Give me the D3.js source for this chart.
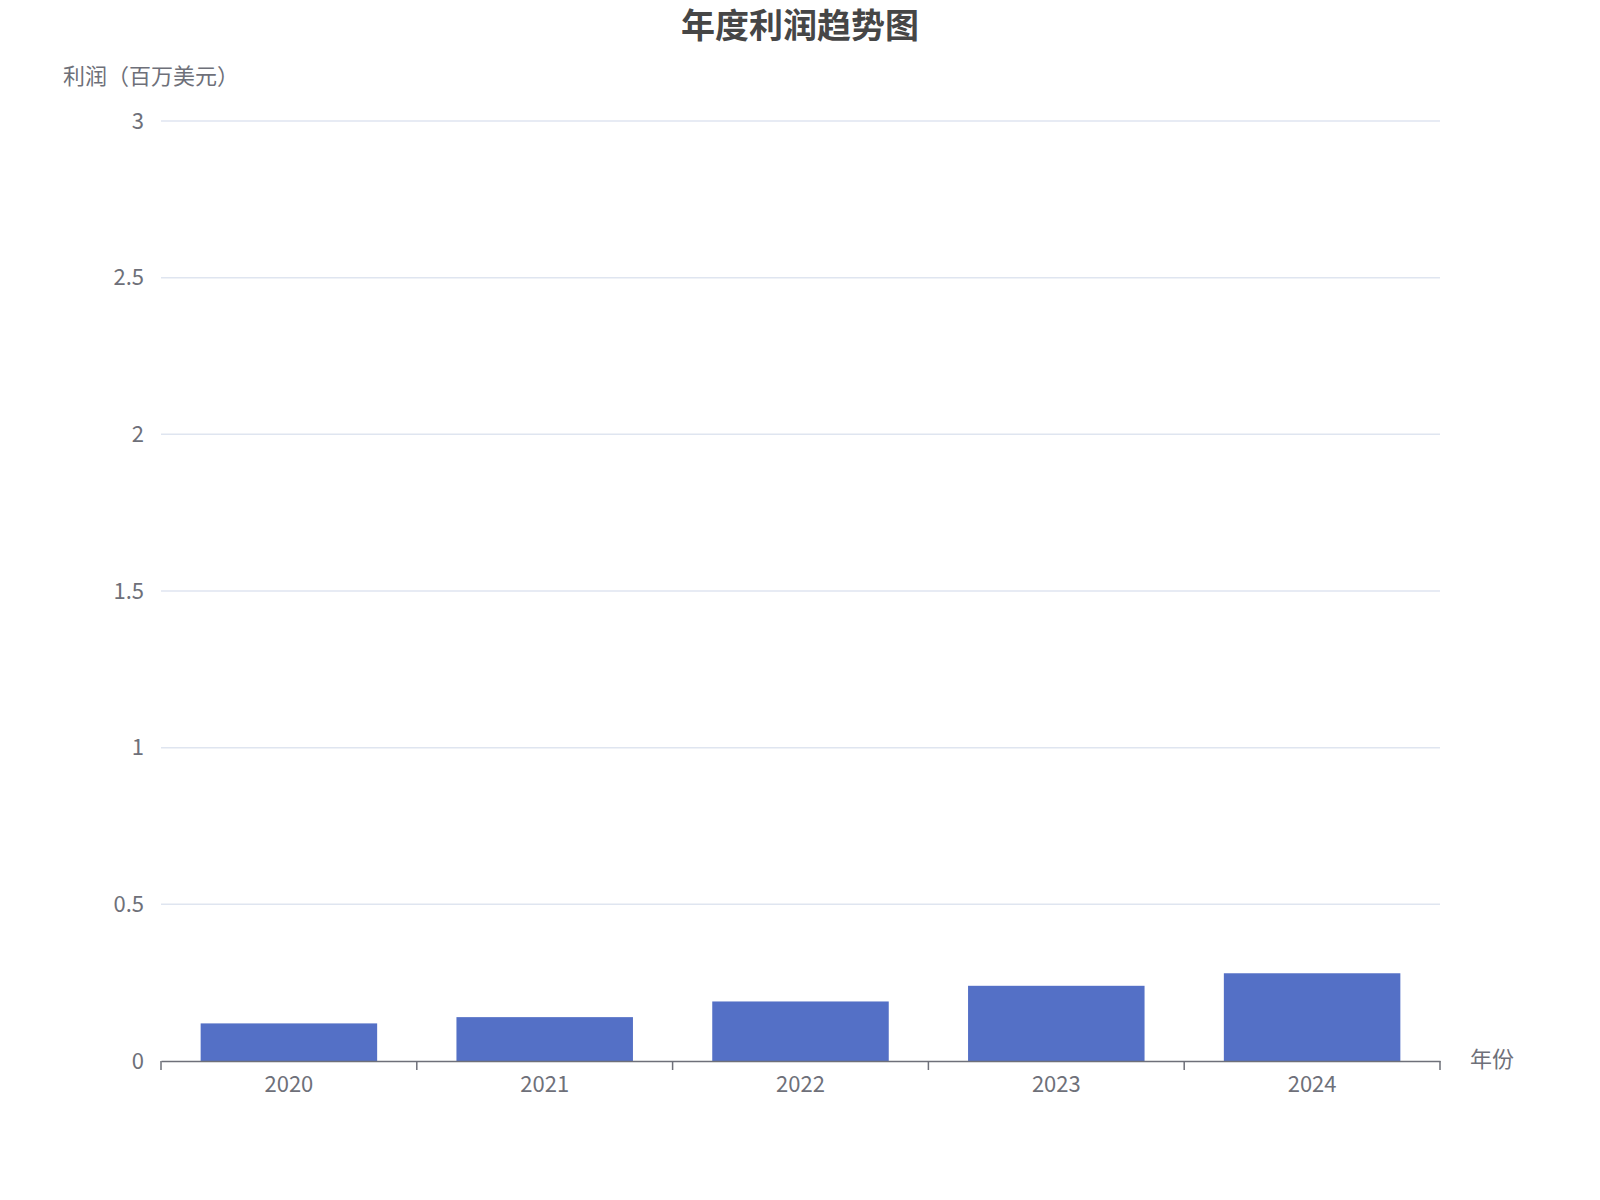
<!DOCTYPE html><html><head><meta charset="utf-8"><script src="https://cdn.jsdelivr.net/npm/d3@7"></script>
<style>body{margin:0;background:#fff}text{font-family:"Noto Sans CJK SC","Noto Sans",sans-serif}</style></head><body>
<svg id="c" width="1600" height="1200"></svg>
<script>
const years=["2020","2021","2022","2023","2024"];
const profit=[0.12,0.14,0.19,0.24,0.28];
const yTicks=[0,0.5,1,1.5,2,2.5,3];
const svg=d3.select("#c");
const L=161,R=1440,T=121,B=1061;
const x=d3.scaleBand().domain(years).range([L,R]).paddingInner(0.31).paddingOuter(0.155);
const xb=d3.scaleBand().domain(years).range([L,R]);
const y=d3.scaleLinear().domain([0,3]).range([B,T]);
svg.append("g").selectAll("line").data(yTicks.slice(1)).join("line")
 .attr("x1",L).attr("x2",R).attr("y1",d=>y(d)).attr("y2",d=>y(d)).attr("stroke","#dfe5f0").attr("stroke-width",1.5);
svg.append("g").selectAll("text").data(yTicks).join("text").attr("x",L-17).attr("y",d=>y(d)).attr("dy","0.35em")
 .attr("text-anchor","end").attr("font-size",22).attr("font-family","Open Sans").attr("fill","#6e7079").text(d=>d);
svg.append("g").selectAll("rect").data(years).join("rect").attr("x",d=>x(d)).attr("width",x.bandwidth())
 .attr("y",(d,i)=>y(profit[i])).attr("height",(d,i)=>B-y(profit[i])).attr("fill","#5470c6");
const ax=svg.append("g").attr("transform",`translate(0,${B})`).call(d3.axisBottom(xb).tickSize(0).tickPadding(15));
ax.select(".domain").attr("stroke","#6e7079").attr("stroke-width",1.5);
ax.selectAll("text").attr("font-size",22).attr("fill","#6e7079").attr("font-family","Open Sans");
const tk=[L,...years.map(d=>xb(d)+xb.bandwidth())];
svg.append("g").selectAll("line").data(tk).join("line").attr("x1",d=>d).attr("x2",d=>d).attr("y1",B).attr("y2",B+9).attr("stroke","#6e7079").attr("stroke-width",1.5);
svg.append("text").attr("x",800).attr("y",38).attr("text-anchor","middle").attr("font-size",34).attr("font-weight","bold").attr("fill","#464646").text("年度利润趋势图");
svg.append("text").attr("x",63).attr("y",84).attr("font-size",22).attr("fill","#6e7079").text("利润（百万美元）");
svg.append("text").attr("x",1470).attr("y",1067).attr("font-size",22).attr("fill","#6e7079").text("年份");
</script></body></html>
